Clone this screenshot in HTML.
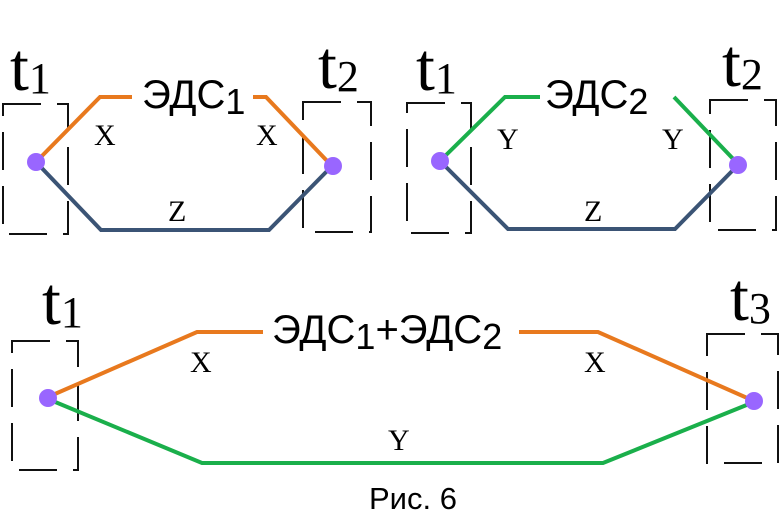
<!DOCTYPE html>
<html><head><meta charset="utf-8"><style>
html,body{margin:0;padding:0;background:#fff;}
svg{display:block;}
.s{font-family:"Liberation Serif",serif;}
.a{font-family:"Liberation Sans",sans-serif;}
</style></head><body>
<svg width="780" height="521" viewBox="0 0 780 521" xmlns="http://www.w3.org/2000/svg">
<g fill="none" stroke="#111" stroke-width="2" stroke-dasharray="38 16">
<rect x="3" y="104" width="65" height="130"/>
<rect x="303" y="102" width="68" height="130"/>
<rect x="407" y="103" width="64" height="130"/>
<rect x="710" y="100" width="66" height="130"/>
<rect x="12" y="341" width="66" height="129"/>
<rect x="707" y="334" width="71" height="129"/>
</g>
<g fill="none" stroke-width="4" stroke-linejoin="miter">
<polyline points="36,162 100,97 132,97" stroke="#E8791E"/>
<polyline points="253,97 266,97 330,164" stroke="#E8791E"/>
<polyline points="36,162 101,230 269,230 332,166" stroke="#3B5475"/>
<polyline points="440,161 505,97 540,97" stroke="#1AAF4B"/>
<polyline points="674,97 738,164" stroke="#1AAF4B"/>
<polyline points="440,161 508,229 675,229 738,165" stroke="#3B5475"/>
<polyline points="48,397 197,332 263,332" stroke="#E8791E"/>
<polyline points="519,332 598,332 754,401" stroke="#E8791E"/>
<polyline points="48,399 202,463 603,463 754,402" stroke="#1AAF4B"/>
</g>
<g fill="#9966FF">
<circle cx="36" cy="162" r="9"/>
<circle cx="333" cy="166" r="9"/>
<circle cx="440" cy="161" r="9"/>
<circle cx="738" cy="165" r="9"/>
<circle cx="48" cy="398" r="9"/>
<circle cx="754" cy="401" r="9"/>
</g>
<g class="s" fill="#000">
<text x="10" y="90" font-size="68">t<tspan font-size="44" dy="3">1</tspan></text>
<text x="318" y="88" font-size="68">t<tspan font-size="44" dy="3">2</tspan></text>
<text x="416" y="90" font-size="68">t<tspan font-size="44" dy="3">1</tspan></text>
<text x="722" y="86" font-size="68">t<tspan font-size="44" dy="3">2</tspan></text>
<text x="42" y="324" font-size="68">t<tspan font-size="44" dy="3">1</tspan></text>
<text x="730" y="320" font-size="68">t<tspan font-size="44" dy="3">3</tspan></text>
<text x="94" y="145" font-size="30">X</text>
<text x="256" y="145" font-size="30">X</text>
<text x="168" y="221" font-size="30">Z</text>
<text x="497" y="149" font-size="30">Y</text>
<text x="662" y="149" font-size="30">Y</text>
<text x="584" y="221" font-size="30">Z</text>
<text x="190" y="372" font-size="30">X</text>
<text x="584" y="372" font-size="30">X</text>
<text x="388" y="450" font-size="30">Y</text>
</g>
<g class="a" fill="#000">
<text x="142" y="108" font-size="40">ЭДС<tspan font-size="36" dy="6">1</tspan></text>
<text x="545" y="108" font-size="40">ЭДС<tspan font-size="36" dy="6">2</tspan></text>
<text x="272" y="343" font-size="40">ЭДС<tspan font-size="36" dy="6">1</tspan><tspan dy="-6">+ЭДС</tspan><tspan font-size="36" dy="6">2</tspan></text>
<text x="369" y="509" font-size="31">Рис. 6</text>
</g>
</svg>
</body></html>
